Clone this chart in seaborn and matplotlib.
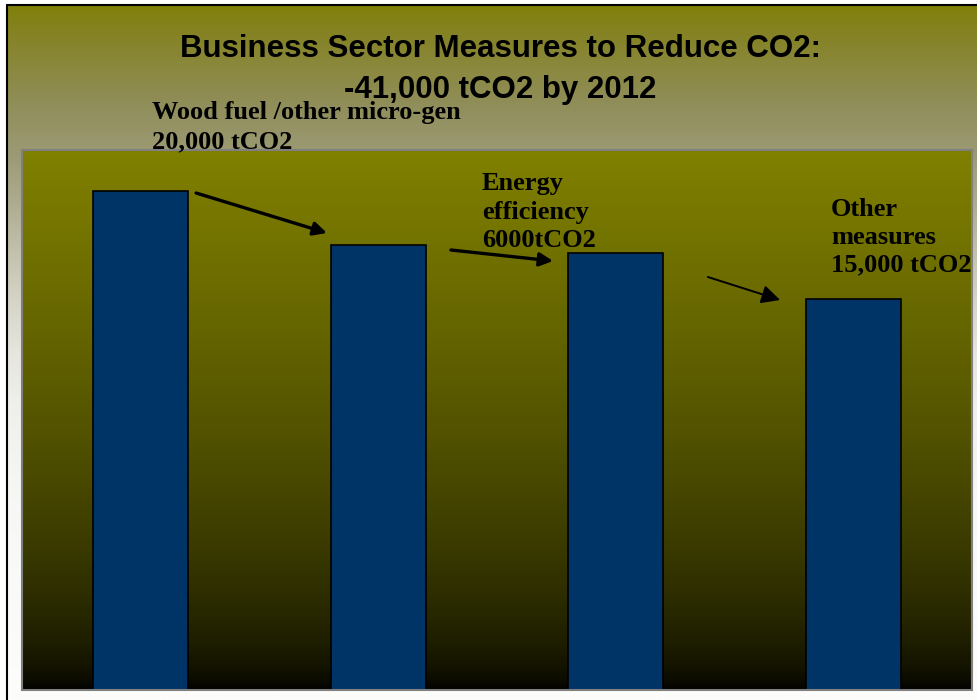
import numpy as np
import pandas as pd
import matplotlib
matplotlib.use("Agg")
import matplotlib.pyplot as plt
from matplotlib.lines import Line2D
import seaborn as sns

# ---- data (tCO2) ----
stages = ["Baseline", "After micro-gen", "After efficiency", "After other"]
emissions = [199500, 178000, 175000, 156500]
y_top = 216000

title_lines = ["Business Sector Measures to Reduce CO2:", "-41,000 tCO2 by 2012"]
notes = ["Wood fuel /other micro-gen\n20,000 tCO2",
         "Energy\nefficiency\n6000tCO2",
         "Other\nmeasures\n15,000 tCO2"]

df = pd.DataFrame({"stage": stages, "tco2": emissions})

sns.set_theme(style="white")
plt.rcParams["font.family"] = ["Liberation Serif", "DejaVu Serif"]
plt.rcParams["text.color"] = "black"

W, H = 977, 700
fig = plt.figure(figsize=(W / 100, H / 100), dpi=100, facecolor="white")

# figure background: olive at top, greying out to white further down
stops = np.array([0, 30, 100, 150, 200, 250, 300, 350, 400, 500, 700]) / H
cols = np.array([[128, 128, 10], [133, 131, 37], [144, 142, 90], [156, 154, 116],
                 [174, 172, 144], [196, 194, 174], [214, 213, 200], [230, 229, 222],
                 [239, 239, 235], [247, 247, 245], [253, 253, 252]]) / 255
yy = np.linspace(0, 1, 400)
grad = np.stack([np.interp(yy, stops, cols[:, k]) for k in range(3)], axis=-1)[:, None, :]
bg = fig.add_axes([7 / W, 0, 1 - 7 / W, 1 - 5 / H], zorder=-10)
bg.imshow(grad, aspect="auto", extent=[0, 1, 0, 1], origin="upper")
bg.set_axis_off()

# black frame on left and top
fig.add_artist(Line2D([7 / W, 7 / W], [0, 1 - 5 / H], color="black", lw=1.5,
                      transform=fig.transFigure))
fig.add_artist(Line2D([7 / W, 1], [1 - 5 / H, 1 - 5 / H], color="black", lw=1.5,
                      transform=fig.transFigure))

ax = fig.add_axes([22 / W, 10 / H, 950 / W, 540 / H])

# plot area gradient olive -> black
olive = np.array([128, 128, 0]) / 255
s = np.linspace(0, 1, 256)[:, None]
pa = olive[None, None, :] * ((1 - s[..., None]) ** 0.6)
ax.imshow(pa, aspect="auto", extent=[-0.5, 3.5, 0, y_top], origin="upper", zorder=0)

sns.barplot(data=df, x="stage", y="tco2", color="#003366", width=0.4,
            edgecolor="black", linewidth=1.2, saturation=1, ax=ax, zorder=2)

ax.set_xlim(-0.5, 3.5)
ax.set_ylim(0, y_top)
ax.set_xticks([])
ax.set_yticks([])
ax.set_xlabel("")
ax.set_ylabel("")
for sp in ax.spines.values():
    sp.set_visible(True)
    sp.set_color("#808080")
    sp.set_linewidth(1.5)

# title
for line, ypix in zip(title_lines, [57, 98]):
    fig.text(500 / W, 1 - ypix / H, line, ha="center", va="baseline", color="black",
             fontsize=22.5, fontweight="bold", family=["Liberation Sans", "DejaVu Sans"])

# step labels (anchored at the baseline of their last line)
note_pos = [(0.047, 216800, 1.32), (1.437, 177200, 1.3), (2.906, 167600, 1.24)]
for txt, (x, y, ls) in zip(notes, note_pos):
    ax.text(x, y, txt, ha="left", va="baseline", fontsize=19, fontweight="bold",
            linespacing=ls, color="black", clip_on=False, zorder=5)

# arrows between bars
arrows = [((0.233, 198800), (0.784, 182800), 2.4, 20),
          ((1.306, 176000), (1.736, 171600), 2.4, 20),
          ((2.388, 165200), (2.692, 156000), 1.4, 28)]
for start, end, lw, ms in arrows:
    ax.annotate("", xy=end, xytext=start,
                arrowprops=dict(arrowstyle="-|>", color="black", lw=lw,
                                mutation_scale=ms, shrinkA=0, shrinkB=0),
                zorder=5)

fig.savefig("out.png", dpi=100, facecolor=fig.get_facecolor())
